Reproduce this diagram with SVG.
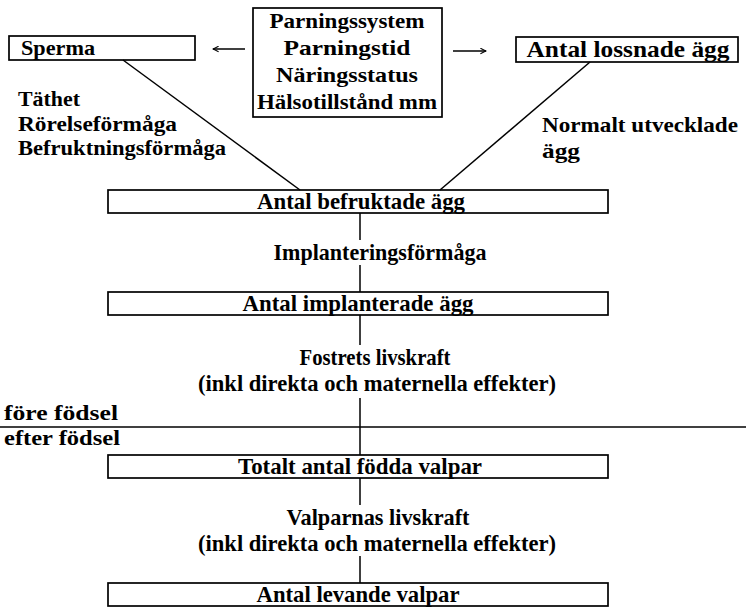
<svg xmlns="http://www.w3.org/2000/svg" width="746" height="608" viewBox="0 0 746 608">
<style>
.box{fill:none;stroke:#000;stroke-width:1.7}
.ln{fill:none;stroke:#000;stroke-width:1.5}
text{font-family:"Liberation Serif","Times New Roman",serif;font-weight:bold;font-size:21px;fill:#000}
.c{text-anchor:middle}
.b{font-size:23px}
</style>
<defs>
<marker id="ah" viewBox="0 0 10 10" refX="9" refY="5" markerWidth="7" markerHeight="7" markerUnits="userSpaceOnUse" orient="auto">
<path d="M1,1 L9,5 L1,9" fill="none" stroke="#000" stroke-width="1.5"/>
</marker>
</defs>
<rect width="746" height="608" fill="#fff"/>
<g id="connectors">
<line class="ln" x1="245" y1="49" x2="213" y2="49" marker-end="url(#ah)"/>
<line class="ln" x1="453" y1="51" x2="486" y2="51" marker-end="url(#ah)"/>
<line class="ln" x1="123" y1="60" x2="300" y2="190"/>
<line class="ln" x1="590" y1="62" x2="440" y2="190"/>
<line class="ln" x1="360" y1="213" x2="360" y2="240"/>
<line class="ln" x1="360" y1="265" x2="360" y2="292"/>
<line class="ln" x1="360" y1="315" x2="360" y2="345"/>
<line class="ln" x1="360" y1="398" x2="360" y2="455"/>
<line class="ln" x1="360" y1="478" x2="360" y2="505"/>
<line class="ln" x1="360" y1="556" x2="360" y2="583"/>
<line class="ln" x1="0" y1="427" x2="746" y2="427"/>
</g>
<g id="sperma">
<rect class="box" x="9" y="36" width="186" height="24"/>
<text x="21" y="55" textLength="74" lengthAdjust="spacingAndGlyphs">Sperma</text>
</g>
<g id="faktorer">
<rect class="box" x="253" y="8" width="189" height="109"/>
<text class="c" x="347" y="28" textLength="155" lengthAdjust="spacingAndGlyphs">Parningssystem</text>
<text class="c" x="347" y="55" textLength="127" lengthAdjust="spacingAndGlyphs">Parningstid</text>
<text class="c" x="347" y="82" textLength="142" lengthAdjust="spacingAndGlyphs">Näringsstatus</text>
<text class="c" x="347" y="109" textLength="180" lengthAdjust="spacingAndGlyphs">Hälsotillstånd mm</text>
</g>
<g id="lossnade">
<rect class="box" x="516" y="37" width="222" height="25"/>
<text class="c b" x="628" y="57" textLength="203" lengthAdjust="spacingAndGlyphs">Antal lossnade ägg</text>
</g>
<g id="sperma-egenskaper">
<text x="18" y="106" textLength="62" lengthAdjust="spacingAndGlyphs">Täthet</text>
<text x="18" y="131" textLength="159" lengthAdjust="spacingAndGlyphs">Rörelseförmåga</text>
<text x="18" y="155" textLength="208" lengthAdjust="spacingAndGlyphs">Befruktningsförmåga</text>
</g>
<g id="normalt">
<text x="542" y="132" textLength="196" lengthAdjust="spacingAndGlyphs">Normalt utvecklade</text>
<text x="542" y="158" textLength="38" lengthAdjust="spacingAndGlyphs">ägg</text>
</g>
<g id="befruktade">
<rect class="box" x="108" y="190" width="500" height="23"/>
<text class="c b" x="361" y="209" textLength="208" lengthAdjust="spacingAndGlyphs">Antal befruktade ägg</text>
</g>
<g id="implanteringsformaga">
<text class="c b" x="380" y="260" textLength="213" lengthAdjust="spacingAndGlyphs">Implanteringsförmåga</text>
</g>
<g id="implanterade">
<rect class="box" x="108" y="292" width="500" height="23"/>
<text class="c b" x="358" y="311" textLength="231" lengthAdjust="spacingAndGlyphs">Antal implanterade ägg</text>
</g>
<g id="fostrets">
<text class="c b" x="375" y="365" textLength="151" lengthAdjust="spacingAndGlyphs">Fostrets livskraft</text>
<text class="c b" x="377" y="391" textLength="358" lengthAdjust="spacingAndGlyphs">(inkl direkta och maternella effekter)</text>
</g>
<g id="fodsel">
<text x="4" y="420" textLength="114" lengthAdjust="spacingAndGlyphs">före födsel</text>
<text x="4" y="445" textLength="116" lengthAdjust="spacingAndGlyphs">efter födsel</text>
</g>
<g id="fodda">
<rect class="box" x="108" y="455" width="500" height="23"/>
<text class="c b" x="360" y="474" textLength="244" lengthAdjust="spacingAndGlyphs">Totalt antal födda valpar</text>
</g>
<g id="valparnas">
<text class="c b" x="378" y="525" textLength="183" lengthAdjust="spacingAndGlyphs">Valparnas livskraft</text>
<text class="c b" x="377" y="551" textLength="358" lengthAdjust="spacingAndGlyphs">(inkl direkta och maternella effekter)</text>
</g>
<g id="levande">
<rect class="box" x="108" y="583" width="500" height="23"/>
<text class="c b" x="358" y="602" textLength="203" lengthAdjust="spacingAndGlyphs">Antal levande valpar</text>
</g>
</svg>
